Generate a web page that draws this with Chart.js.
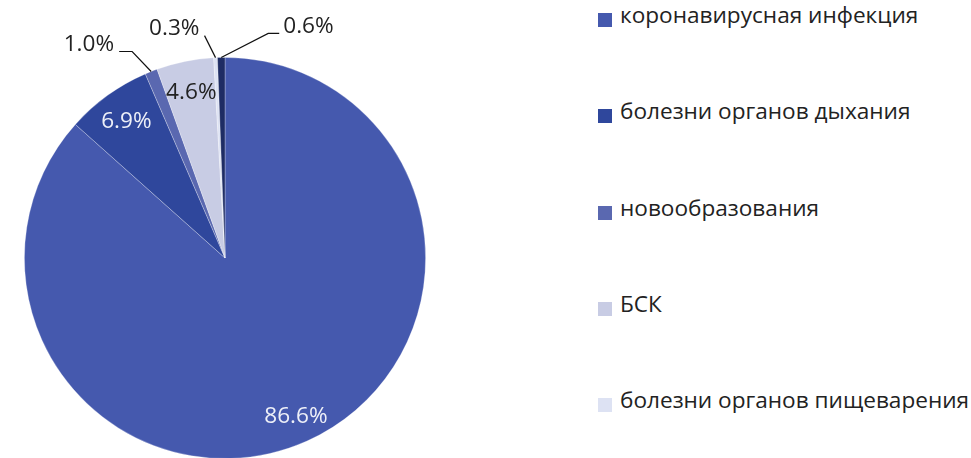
<!DOCTYPE html>
<html>
<head>
<meta charset="utf-8">
<script src="https://cdn.jsdelivr.net/npm/chart.js@4"></script>
<style>
  html, body { margin: 0; padding: 0; background: #fff; }
  body { width: 971px; height: 458px; overflow: hidden; position: relative; font-family: 'Open Sans', sans-serif; }
  #pie-wrap { position: absolute; left: 0; top: 0; width: 450px; height: 516px; }
  #legend { position: absolute; left: 598px; top: 0; }
  .leg-item { position: absolute; left: 0; white-space: nowrap; }
  .leg-box { position: absolute; left: 0; width: 14px; height: 14px; }
  .leg-text { position: absolute; left: 22px; font-size: 22.6px; color: #222; line-height: 1; }
</style>
</head>
<body>
<div id="pie-wrap"><canvas id="pie"></canvas></div>
<div id="legend"></div>
<script>
// ── data ──
const categories = [
  'коронавирусная инфекция',
  'болезни органов дыхания',
  'новообразования',
  'БСК',
  'болезни органов пищеварения',
  'прочие'
];
const shares = [86.6, 6.9, 1.0, 4.6, 0.3, 0.6];
const sliceColors = ['#4559AE', '#2F479C', '#5A68B0', '#C8CCE4', '#DDE2F3', '#1E2C64'];
const legendCount = 5; // the sixth legend entry falls outside the picture

// label placement: inside the slice (fraction of radius), or outside with a leader line (0)
const labelRadius = [0.865, 0.84, 0, 0.84, 0, 0];
const labelInk = ['#EEF0F8', '#EEF0F8', '#222', '#222', '#222', '#222'];

// ═══════════════════════════════════════════════════
// Percentage labels (no datalabels plugin available)
// ═══════════════════════════════════════════════════
const pctLabels = {
  id: 'pctLabels',
  afterDatasetsDraw(chart) {
    const ctx = chart.ctx;
    const meta = chart.getDatasetMeta(0);
    ctx.save();
    ctx.font = "22.6px 'Open Sans', sans-serif";
    ctx.textBaseline = 'middle';
    meta.data.forEach((arc, i) => {
      const mid = (arc.startAngle + arc.endAngle) / 2;
      const R = arc.outerRadius;
      const txt = shares[i].toFixed(1) + '%';
      ctx.fillStyle = labelInk[i];
      if (labelRadius[i]) {
        ctx.textAlign = 'center';
        ctx.fillText(txt, arc.x + Math.cos(mid) * R * labelRadius[i], arc.y + Math.sin(mid) * R * labelRadius[i]);
        return;
      }
      // leader line from the rim out to the label
      const px = arc.x + Math.cos(mid) * R;
      const py = arc.y + Math.sin(mid) * R;
      let elbowX, elbowY, endX, textX, textAlign;
      if (i === 2) {        // 1.0%
        elbowX = px - 19; elbowY = py - 20; endX = elbowX - 13; textX = endX - 5; textAlign = 'right';
      } else if (i === 4) { // 0.3%
        elbowX = px - 11; elbowY = py - 22; endX = elbowX; textX = elbowX - 5; textAlign = 'right';
      } else {              // 0.6%
        elbowX = px + 47; elbowY = py - 24; endX = elbowX + 11; textX = endX + 4; textAlign = 'left';
      }
      ctx.strokeStyle = '#111';
      ctx.lineWidth = 1.2;
      ctx.beginPath();
      ctx.moveTo(px, py);
      ctx.lineTo(elbowX, elbowY);
      ctx.lineTo(endX, elbowY);
      ctx.stroke();
      ctx.textAlign = textAlign;
      ctx.fillText(txt, textX, elbowY - 7);
    });
    ctx.restore();
  }
};

new Chart(document.getElementById('pie'), {
  type: 'pie',
  data: {
    labels: categories,
    datasets: [{
      data: shares,
      backgroundColor: sliceColors,
      borderColor: 'rgba(255,255,255,0.35)',
      borderWidth: 0.8
    }]
  },
  options: {
    responsive: true,
    maintainAspectRatio: false,
    animation: false,
    layout: { padding: { top: 57, bottom: 57, left: 24, right: 24 } },
    plugins: { legend: { display: false }, tooltip: { enabled: false } }
  },
  plugins: [pctLabels]
});

// ── legend ──
const legend = document.getElementById('legend');
for (let i = 0; i < legendCount; i++) {
  const item = document.createElement('div');
  item.className = 'leg-item';
  item.style.top = (13 + i * 96.3) + 'px';
  item.innerHTML = `<div class="leg-box" style="background:${sliceColors[i]}"></div>` +
    `<div class="leg-text" style="top:-9px">${categories[i]}</div>`;
  legend.appendChild(item);
}
</script>
</body>
</html>
